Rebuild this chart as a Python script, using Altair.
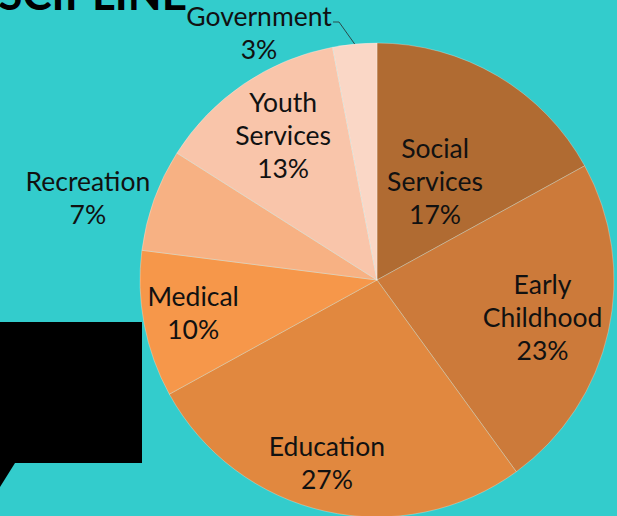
import math
import altair as alt
import pandas as pd

# ---- data ----
categories = ["Social Services", "Early Childhood", "Education", "Medical",
              "Recreation", "Youth Services", "Government"]
shares = [17, 23, 27, 10, 7, 13, 3]
label_lines = ["Social\nServices\n17%", "Early\nChildhood\n23%", "Education\n27%",
               "Medical\n10%", "Recreation\n7%", "Youth\nServices\n13%", "Government\n3%"]
colors = ["#B06B32", "#CC7A3A", "#E1883F", "#F6974A", "#F7B183", "#F9C5AA", "#FAD7C6"]

# ---- layout (not data) ----
W, H = 617, 516
CX, CY, R = 377, 280, 237
label_radius = [113, 170, 191, 187, 300, 171, 272]
label_angle_shift = [0.3, 0.6, 2.6, 0.3, -4.3, 0.9, -20.3]  # degrees
FONT = "Lato"
FS = 26.5
LH = 33
BG = "#33CCCC"

total = sum(shares)
cum = 0
mids = []
for v in shares:
    mids.append((cum + v / 2) / total * 2 * math.pi)
    cum += v

df = pd.DataFrame({
    "cat": categories,
    "share": shares,
    "order": list(range(len(categories))),
    "label": label_lines,
    "nl": [s.count("\n") + 1 for s in label_lines],
    "lr": label_radius,
    "la": [m + math.radians(s) for m, s in zip(mids, label_angle_shift)],
})

color_scale = alt.Scale(domain=categories, range=colors)

pie = alt.Chart(df).mark_arc(
    x=CX, y=CY, outerRadius=R, stroke="#FFFFFF", strokeOpacity=0.35, strokeWidth=0.8
).encode(
    theta=alt.Theta("share:Q", stack=True),
    order=alt.Order("order:Q"),
    color=alt.Color("cat:N", scale=color_scale, legend=None),
)


def label_layer(n):
    return alt.Chart(df).transform_filter(alt.datum.nl == n).mark_text(
        x=CX, y=CY, font=FONT, fontSize=FS, color="#111111", lineBreak="\n",
        lineHeight=LH, align="center", baseline="middle", dy=-(n - 1) * LH / 2
    ).encode(
        theta=alt.Theta("la:Q", scale=None, stack=False),
        radius=alt.Radius("lr:Q", scale=None),
        text="label:N",
    )


labels2 = label_layer(2)
labels3 = label_layer(3)

# leader line for Government label
g = mids[-1]
lead = pd.DataFrame({
    "px": [333, 339, CX + R * math.sin(g)],
    "py": [22, 22, CY - R * math.cos(g)],
    "k": [0, 1, 2],
})
leader = alt.Chart(lead).mark_line(color="#2A4A4A", strokeWidth=1).encode(
    x=alt.X("px:Q", scale=None), y=alt.Y("py:Q", scale=None), order="k:Q"
)

# decorative black callout box and cropped title
box = alt.Chart(pd.DataFrame({"a": [0]})).mark_rect(color="#000000").encode(
    x=alt.value(0), x2=alt.value(142), y=alt.value(322), y2=alt.value(463)
)
tail_df = pd.DataFrame({"tx": [0, 15], "ty": [463, 463], "ty2": [487, 463]})
tail = alt.Chart(tail_df).mark_area(color="#000000").encode(
    x=alt.X("tx:Q", scale=None), y=alt.Y("ty:Q", scale=None), y2="ty2:Q"
)
title = alt.Chart(pd.DataFrame({"t": ["DISCIPLINE"]})).mark_text(
    font=FONT, fontWeight="bold", fontSize=44, color="#000000",
    align="right", baseline="alphabetic"
).encode(x=alt.value(187), y=alt.value(10), text="t:N")

chart = alt.layer(title, box, tail, pie, leader, labels2, labels3).properties(
    width=W, height=H, background=BG, padding=0,
    autosize=alt.AutoSizeParams(type="none"),
).configure_view(stroke=None)

chart.save("out.html", embed_options={"renderer": "svg", "actions": False})
